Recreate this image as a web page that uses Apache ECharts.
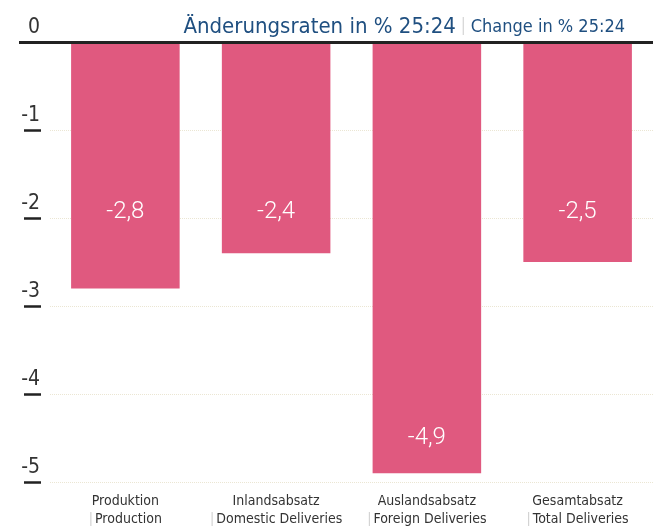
<!DOCTYPE html>
<html>
<head>
<meta charset="utf-8">
<script src="https://cdn.jsdelivr.net/npm/echarts@6/dist/echarts.min.js"></script>
<style>
  html, body { margin: 0; padding: 0; background: #fff; }
  #chart { width: 653px; height: 526px; }
</style>
</head>
<body>
<div id="chart"></div>
<script>
// Daten
const categoriesDe = ['Produktion', 'Inlandsabsatz', 'Auslandsabsatz', 'Gesamtabsatz'];
const categoriesEn = ['Production', 'Domestic Deliveries', 'Foreign Deliveries', 'Total Deliveries'];
const changeValues = [-2.8, -2.4, -4.9, -2.5];
const yTicks = [0, -1, -2, -3, -4, -5];

const FONT = "'Liberation Sans Narrow', 'DejaVu Sans Condensed', sans-serif";
const barColor = '#E0597F';
const darkLine = '#222';

const myChart = echarts.init(document.getElementById('chart'));

const option = {
    animation: false,
    backgroundColor: '#fff',
    title: {
        text: '{a|Änderungsraten in % 25:24}{s| | }{b|Change in % 25:24}',
        right: 23,
        top: 11,
        textStyle: {
            fontWeight: 'normal',
            rich: {
                a: { fontFamily: FONT, fontSize: 22, fontWeight: 'normal', color: '#1F4F80' },
                s: { fontFamily: FONT, fontSize: 17, fontWeight: 'normal', color: '#d8d8d8' },
                b: { fontFamily: FONT, fontSize: 18, fontWeight: 'normal', color: '#1F4F80' }
            }
        }
    },
    grid: { left: 50, right: 0, top: 42, bottom: 44, containLabel: false },
    xAxis: {
        type: 'category',
        data: categoriesDe,
        position: 'bottom',
        axisLine: { show: false, onZero: false },
        axisTick: { show: false },
        axisLabel: {
            margin: 10,
            interval: 0,
            formatter: (v, i) => '{a|' + v + '}\n{s||}{b|' + categoriesEn[i] + '}',
            rich: {
                a: { fontFamily: FONT, fontSize: 14, color: '#333', lineHeight: 18 },
                s: { fontFamily: FONT, fontSize: 14, color: '#d0d0d0', lineHeight: 18, padding: [0, 2, 0, 0] },
                b: { fontFamily: FONT, fontSize: 14, color: '#333', lineHeight: 18 }
            }
        }
    },
    yAxis: [{
        type: 'value',
        min: -5,
        max: 0,
        interval: 1,
        offset: 9,
        axisLine: { show: false },
        axisTick: { show: true, length: 17, lineStyle: { color: darkLine, width: 2.5 } },
        splitLine: { show: true, lineStyle: { type: 'dotted', color: '#ebe6d3', width: 1 } },
        axisLabel: {
            margin: 1,
            fontFamily: FONT,
            fontSize: 21,
            color: '#333',
            verticalAlign: 'bottom',
            padding: [0, 0, 4, 0],
            customValues: yTicks,
            formatter: v => String(v)
        }
    }, {
        // Nulllinie nach links verlängert
        type: 'value',
        min: -5,
        max: 0,
        position: 'left',
        offset: 0,
        axisLine: { show: false },
        axisLabel: { show: false },
        splitLine: { show: false },
        axisTick: { show: true, length: 31, customValues: [0], lineStyle: { color: darkLine, width: 3 } }
    }],
    series: [{
        type: 'bar',
        barWidth: '72%',
        data: changeValues.map(v => ({
            value: v,
            label: { position: ['50%', v < -4 ? 396 : 170] }
        })),
        itemStyle: { color: barColor },
        label: {
            show: true,
            align: 'center',
            verticalAlign: 'middle',
            fontFamily: "Roboto, 'DejaVu Sans', sans-serif",
            fontWeight: 300,
            fontSize: 24,
            color: '#fff',
            formatter: p => String(p.value).replace('.', ',')
        },
        markLine: {
            silent: true,
            symbol: 'none',
            label: { show: false },
            lineStyle: { color: darkLine, width: 3, type: 'solid' },
            data: [{ yAxis: 0 }]
        }
    }]
};

myChart.setOption(option);
</script>
</body>
</html>
